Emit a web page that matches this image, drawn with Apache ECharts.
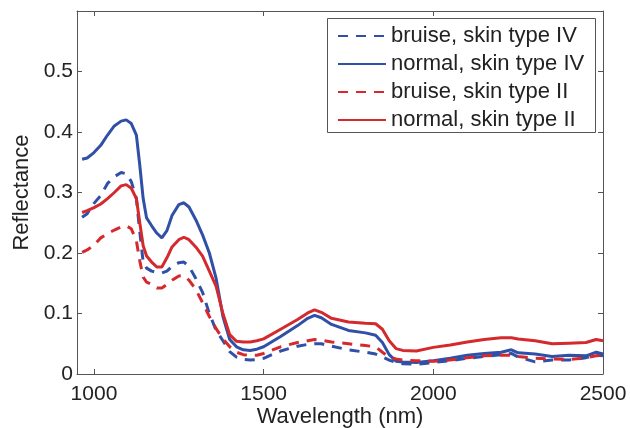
<!DOCTYPE html>
<html>
<head>
<meta charset="utf-8">
<script src="https://cdn.jsdelivr.net/npm/echarts@6/dist/echarts.min.js"></script>
<style>
  html, body { margin: 0; padding: 0; background: #fff; }
  #chart { width: 630px; height: 428px; }
</style>
</head>
<body>
<div id="chart"></div>
<script>
// wavelength grid (nm), shared by all curves
var wavelengths = [965, 980, 1000, 1020, 1040, 1060, 1080, 1095, 1110, 1125, 1135, 1145, 1155, 1170, 1185, 1200,
  1215, 1230, 1250, 1265, 1280, 1300, 1320, 1340, 1360, 1380, 1400, 1420, 1440, 1460, 1480, 1500,
  1550, 1600, 1630, 1650, 1670, 1700, 1750, 1800, 1830, 1850, 1870, 1890, 1910, 1950, 2000, 2050,
  2100, 2150, 2200, 2230, 2250, 2300, 2350, 2400, 2450, 2480, 2500];

var bruiseIV = [0.259, 0.265, 0.282, 0.295, 0.315, 0.326, 0.333, 0.331, 0.318, 0.290, 0.235, 0.185, 0.175, 0.170, 0.168, 0.167,
  0.170, 0.178, 0.184, 0.185, 0.178, 0.158, 0.135, 0.100, 0.072, 0.055, 0.037, 0.028, 0.024, 0.023, 0.024, 0.026,
  0.038, 0.046, 0.049, 0.050, 0.050, 0.046, 0.040, 0.036, 0.033, 0.028, 0.023, 0.019, 0.017, 0.016, 0.019, 0.022,
  0.026, 0.029, 0.032, 0.034, 0.028, 0.020, 0.023, 0.023, 0.027, 0.031, 0.030];

var normalIV = [0.355, 0.357, 0.366, 0.378, 0.395, 0.410, 0.418, 0.420, 0.414, 0.395, 0.345, 0.290, 0.258, 0.245, 0.233, 0.225,
  0.237, 0.262, 0.280, 0.283, 0.276, 0.255, 0.230, 0.200, 0.158, 0.095, 0.057, 0.045, 0.040, 0.039, 0.041, 0.045,
  0.062, 0.080, 0.092, 0.097, 0.093, 0.082, 0.072, 0.068, 0.064, 0.052, 0.032, 0.021, 0.020, 0.019, 0.022, 0.026,
  0.031, 0.034, 0.036, 0.040, 0.035, 0.033, 0.029, 0.031, 0.030, 0.036, 0.033];

var bruiseII = [0.201, 0.205, 0.213, 0.225, 0.232, 0.238, 0.243, 0.245, 0.240, 0.220, 0.187, 0.160, 0.152, 0.148, 0.142, 0.142,
  0.148, 0.155, 0.162, 0.163, 0.155, 0.140, 0.118, 0.095, 0.075, 0.058, 0.045, 0.036, 0.032, 0.031, 0.031, 0.034,
  0.045, 0.052, 0.055, 0.057, 0.056, 0.053, 0.050, 0.047, 0.045, 0.036, 0.028, 0.025, 0.023, 0.022, 0.021, 0.023,
  0.027, 0.030, 0.031, 0.031, 0.029, 0.026, 0.025, 0.024, 0.027, 0.030, 0.031];

var normalII = [0.267, 0.270, 0.275, 0.281, 0.290, 0.300, 0.311, 0.313, 0.307, 0.290, 0.250, 0.212, 0.195, 0.185, 0.177, 0.177,
  0.192, 0.210, 0.222, 0.226, 0.222, 0.210, 0.195, 0.170, 0.145, 0.100, 0.065, 0.054, 0.053, 0.053, 0.055, 0.058,
  0.074, 0.090, 0.101, 0.106, 0.102, 0.092, 0.086, 0.084, 0.083, 0.074, 0.055, 0.042, 0.039, 0.038, 0.044, 0.048,
  0.053, 0.057, 0.060, 0.060, 0.058, 0.055, 0.050, 0.051, 0.052, 0.057, 0.055];

var xTicks = [1000, 1500, 2000, 2500];
var yTicks = [0, 0.1, 0.2, 0.3, 0.4, 0.5];

var BLUE = '#3050a8';
var RED = '#d42a2e';
var AXIS = '#555';
var FONT = 'Liberation Sans, Arial, sans-serif';

function pairs(vals) {
  return wavelengths.map(function (w, i) { return [w, vals[i]]; });
}

function makeSeries(name, vals, color, dashed) {
  return {
    name: name,
    type: 'line',
    data: pairs(vals),
    symbol: 'circle',
    showSymbol: false,
    animation: false,
    lineStyle: { color: color, width: 3, type: dashed ? [10, 8] : 'solid' },
    itemStyle: { color: color }
  };
}

function xAx(pos, show) {
  return {
    type: 'value', position: pos, min: 950, max: 2500,
    axisLine: { show: true, onZero: false, lineStyle: { color: AXIS, width: 1 } },
    axisTick: { show: true, inside: true, length: 5, customValues: xTicks, lineStyle: { color: AXIS } },
    axisLabel: {
      show: show, customValues: xTicks, margin: 10, fontSize: 21, color: '#222', fontFamily: FONT,
      formatter: function (v) { return String(v); }
    },
    splitLine: { show: false }
  };
}

function yAx(pos, show) {
  return {
    type: 'value', position: pos, min: 0, max: 0.6,
    axisLine: { show: true, onZero: false, lineStyle: { color: AXIS, width: 1 } },
    axisTick: { show: true, inside: true, length: 5, customValues: yTicks, lineStyle: { color: AXIS } },
    axisLabel: {
      show: show, customValues: yTicks, margin: 4, fontSize: 21, color: '#222', fontFamily: FONT,
      formatter: function (v) { return String(v); }
    },
    splitLine: { show: false }
  };
}

var chart = echarts.init(document.getElementById('chart'), null, { renderer: 'canvas' });

var xBottom = xAx('bottom', true);
xBottom.name = 'Wavelength (nm)';
xBottom.nameLocation = 'middle';
xBottom.nameGap = 32;
xBottom.nameMoveOverlap = false;
xBottom.nameTextStyle = { fontSize: 22, color: '#222', fontFamily: FONT };

var yLeft = yAx('left', true);
yLeft.name = 'Reflectance';
yLeft.nameLocation = 'middle';
yLeft.nameGap = 44;
yLeft.nameMoveOverlap = false;
yLeft.nameTextStyle = { fontSize: 22, color: '#222', fontFamily: FONT };

chart.setOption({
  backgroundColor: '#fff',
  animation: false,
  grid: { left: 77, right: 27, top: 11, bottom: 54, containLabel: false, outerBoundsMode: 'none' },
  xAxis: [xBottom, xAx('top', false)],
  yAxis: [yLeft, yAx('right', false)],
  // legend frame
  graphic: [{
    type: 'rect', left: 327, top: 18, z: 90,
    shape: { width: 268, height: 114 },
    style: { fill: '#fff', stroke: AXIS, lineWidth: 1 }
  }],
  legend: {
    orient: 'vertical',
    left: 327, top: 18, z: 100,
    padding: [7, 8, 4, 10],
    itemWidth: 48, itemHeight: 14, itemGap: 6,
    borderWidth: 0,
    itemStyle: { opacity: 0 },
    textStyle: { fontSize: 22, color: '#222', fontFamily: FONT },
    data: ['bruise, skin type IV', 'normal, skin type IV', 'bruise, skin type II', 'normal, skin type II']
  },
  series: [
    makeSeries('bruise, skin type IV', bruiseIV, BLUE, true),
    makeSeries('normal, skin type IV', normalIV, BLUE, false),
    makeSeries('bruise, skin type II', bruiseII, RED, true),
    makeSeries('normal, skin type II', normalII, RED, false)
  ]
});
</script>
</body>
</html>
